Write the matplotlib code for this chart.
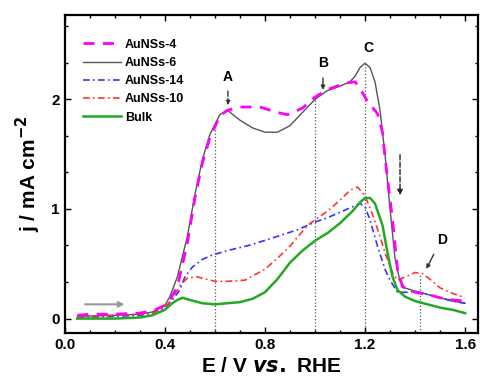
import matplotlib
matplotlib.use("Agg")
import matplotlib.pyplot as plt
from matplotlib.ticker import MultipleLocator

plt.rcParams['font.family'] = ['Liberation Sans', 'DejaVu Sans']
plt.rcParams['font.weight'] = 'bold'

# courbes (E en V, j en mA cm-2)
E4 = [0.05, 0.1, 0.2, 0.3, 0.35, 0.4, 0.42, 0.45, 0.49, 0.52, 0.55, 0.58, 0.62, 0.65, 0.7, 0.78,
      0.85, 0.89, 0.95, 1.0, 1.05, 1.1, 1.13, 1.16, 1.18, 1.21, 1.25, 1.27, 1.28, 1.31, 1.33, 1.35,
      1.4, 1.45, 1.5, 1.55, 1.6]
J4 = [0.03, 0.04, 0.04, 0.05, 0.07, 0.12, 0.17, 0.29, 0.69, 1.1, 1.42, 1.65, 1.85, 1.9, 1.93, 1.93,
      1.88, 1.86, 1.92, 2.02, 2.09, 2.13, 2.15, 2.16, 2.1, 1.98, 1.87, 1.7, 1.47, 0.9, 0.45, 0.29,
      0.24, 0.22, 0.19, 0.17, 0.16]

E6 = [0.05, 0.2, 0.3, 0.35, 0.4, 0.42, 0.45, 0.49, 0.52, 0.55, 0.58, 0.62, 0.65, 0.7, 0.75, 0.8,
      0.85, 0.9, 0.95, 1.0, 1.05, 1.1, 1.14, 1.16, 1.18, 1.2, 1.22, 1.24, 1.26, 1.28, 1.3, 1.32,
      1.34, 1.36, 1.4, 1.45, 1.5, 1.55, 1.6]
J6 = [0.02, 0.03, 0.04, 0.06, 0.12, 0.2, 0.38, 0.75, 1.13, 1.45, 1.68, 1.86, 1.9, 1.81, 1.74, 1.7,
      1.7, 1.76, 1.88, 2.0, 2.08, 2.12, 2.16, 2.21, 2.29, 2.33, 2.29, 2.16, 1.9, 1.5, 1.0, 0.55,
      0.34, 0.28, 0.25, 0.22, 0.19, 0.16, 0.14]

E14 = [0.05, 0.2, 0.3, 0.35, 0.4, 0.43, 0.46, 0.48, 0.51, 0.55, 0.59, 0.65, 0.74, 0.85, 0.93, 1.0,
       1.05, 1.1, 1.15, 1.18, 1.2, 1.22, 1.25, 1.28, 1.3, 1.33, 1.37, 1.4, 1.45, 1.5, 1.55, 1.6]
J14 = [0.01, 0.02, 0.03, 0.05, 0.1, 0.17, 0.26, 0.38, 0.47, 0.54, 0.58, 0.62, 0.67, 0.75, 0.81, 0.88,
       0.92, 0.97, 1.02, 1.05, 1.02, 0.9, 0.66, 0.45, 0.35, 0.24, 0.24, 0.25, 0.22, 0.19, 0.16, 0.14]

E10 = [0.05, 0.2, 0.3, 0.35, 0.4, 0.43, 0.46, 0.49, 0.53, 0.6, 0.65, 0.72, 0.8, 0.85, 0.9, 0.97,
       1.0, 1.05, 1.1, 1.14, 1.17, 1.2, 1.23, 1.26, 1.28, 1.31, 1.33, 1.36, 1.4, 1.43, 1.47, 1.5,
       1.55, 1.6]
J10 = [0.02, 0.03, 0.04, 0.05, 0.1, 0.18, 0.3, 0.37, 0.38, 0.34, 0.34, 0.35, 0.45, 0.55, 0.66, 0.85,
       0.9, 0.98, 1.08, 1.17, 1.2, 1.12, 0.95, 0.75, 0.6, 0.42, 0.35, 0.38, 0.42, 0.41, 0.34, 0.28,
       0.23, 0.19]

Eb = [0.05, 0.2, 0.3, 0.35, 0.4, 0.43, 0.45, 0.47, 0.5, 0.55, 0.6, 0.7, 0.75, 0.8, 0.85, 0.9,
      0.95, 1.0, 1.05, 1.1, 1.15, 1.18, 1.2, 1.22, 1.24, 1.27, 1.29, 1.31, 1.33, 1.36, 1.4, 1.45,
      1.5, 1.55, 1.6]
Jb = [0.0, 0.0, 0.01, 0.03, 0.08, 0.14, 0.17, 0.19, 0.17, 0.14, 0.13, 0.15, 0.18, 0.24, 0.36, 0.51,
      0.62, 0.71, 0.78, 0.87, 0.98, 1.06, 1.1, 1.1, 1.05, 0.85, 0.6, 0.38, 0.26, 0.2, 0.16, 0.13,
      0.1, 0.08, 0.05]

# pics A, B, C, D (position, hauteur des lignes pointillees)
pics_E = [0.6, 1.0, 1.2, 1.42]
pics_J = [1.75, 2.0, 2.33, 0.4]

fig = plt.figure(figsize=(4.8, 3.83), dpi=100)
ax = fig.add_axes([0.135, 0.131, 0.861, 0.830])

# lignes verticales des pics
for e, j in zip(pics_E, pics_J):
    ax.plot([e, e], [-0.13, j], color='#555555', ls=':', lw=0.9, zorder=1)

ax.plot(E4, J4, color='#ff00ff', ls=(0, (4, 3)), lw=2.0, label='AuNSs-4', zorder=4)
ax.plot(E6, J6, color='#555555', ls='-', lw=1.0, label='AuNSs-6', zorder=3)
ax.plot(E14, J14, color='#3333ff', ls=(0, (4, 2, 1, 2)), lw=1.2, label='AuNSs-14', zorder=3)
ax.plot(E10, J10, color='#ff3333', ls=(0, (4, 2, 1, 2)), lw=1.2, label='AuNSs-10', zorder=3)
ax.plot(Eb, Jb, color='#22aa22', ls='-', lw=1.8, label='Bulk', zorder=3)

# annotations
kw = dict(fontsize=10, fontweight='bold', ha='center', va='center')
ax.text(0.652, 2.2, 'A', **kw)
ax.annotate('', xy=(0.652, 1.92), xytext=(0.652, 2.1),
            arrowprops=dict(arrowstyle='-|>', color='#333333', lw=1, ls='--', mutation_scale=6))
ax.text(1.032, 2.33, 'B', **kw)
ax.annotate('', xy=(1.032, 2.06), xytext=(1.032, 2.22),
            arrowprops=dict(arrowstyle='-|>', color='#333333', lw=1, mutation_scale=6))
ax.text(1.212, 2.47, 'C', **kw)
ax.text(1.51, 0.72, 'D', **kw)
ax.annotate('', xy=(1.44, 0.43), xytext=(1.48, 0.61),
            arrowprops=dict(arrowstyle='-|>', color='#333333', lw=1, mutation_scale=6))
ax.annotate('', xy=(1.34, 1.1), xytext=(1.34, 1.52),
            arrowprops=dict(arrowstyle='-|>', color='#222222', lw=1, ls='--', mutation_scale=8))
ax.annotate('', xy=(0.25, 0.13), xytext=(0.07, 0.13),
            arrowprops=dict(arrowstyle='-|>', color='#999999', lw=1.5, mutation_scale=8))

ax.set_xlim(0, 1.652)
ax.set_ylim(-0.13, 2.77)
ax.xaxis.set_major_locator(MultipleLocator(0.4))
ax.xaxis.set_minor_locator(MultipleLocator(0.1))
ax.yaxis.set_major_locator(MultipleLocator(1))
ax.yaxis.set_minor_locator(MultipleLocator(1 / 3))
ax.xaxis.set_major_formatter(plt.FuncFormatter(lambda v, p: '%.1f' % v))
ax.tick_params(which='both', direction='in', top=True, right=True, labelsize=11, width=1)
ax.tick_params(which='major', length=4)
ax.tick_params(which='minor', length=2.5)
for s in ax.spines.values():
    s.set_linewidth(1.6)

ax.set_xlabel(r'E / V $\mathbf{\it{vs.}}$ RHE', fontsize=15, fontweight='bold', labelpad=4)
ax.set_ylabel(r'j / mA cm$^{\mathbf{-2}}$', fontsize=15, fontweight='bold', labelpad=6)

ax.legend(loc='upper left', bbox_to_anchor=(0.03, 0.945), frameon=False, fontsize=9,
          handlelength=3.0, handletextpad=0.3, labelspacing=0.5, borderpad=0)

plt.savefig('out.png', dpi=100)
